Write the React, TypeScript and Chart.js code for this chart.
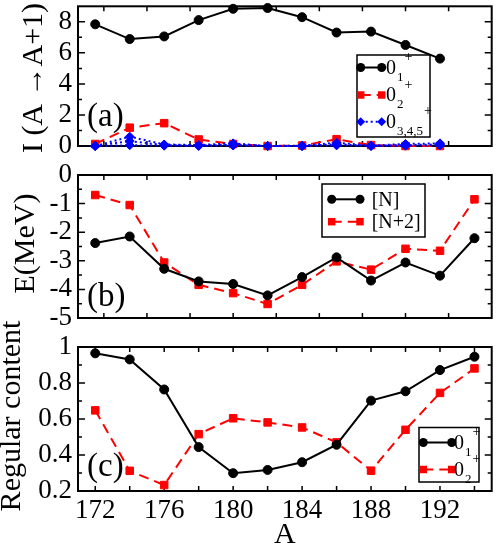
import React, { useEffect, useRef } from 'react';
import { Chart, registerables } from 'chart.js';

Chart.register(...registerables);

const FONT = "'Liberation Serif', 'Times New Roman', Times, serif";

// ---------- data ----------
const A_FULL = [172, 174, 176, 178, 180, 182, 184, 186, 188, 190, 192, 194];
const A_TRANSFER = [172, 174, 176, 178, 180, 182, 184, 186, 188, 190, 192];

// panel (a): I(A -> A+1)
const I_01 = [7.84, 6.89, 7.06, 8.11, 8.84, 8.89, 8.3, 7.31, 7.37, 6.51, 5.63];
const I_02 = [0.13, 1.18, 1.47, 0.42, 0.13, 0.0, 0.03, 0.44, 0.06, 0.0, 0.0];
const I_03 = [0.0, 0.6, 0.1, 0.06, 0.17, 0.0, 0.02, 0.21, 0.03, 0.13, 0.17];
const I_04 = [0.0, 0.32, 0.05, 0.03, 0.08, 0.0, 0.0, 0.12, 0.01, 0.06, 0.1];
const I_05 = [0.0, 0.05, 0.02, 0.0, 0.03, 0.0, 0.0, 0.04, 0.0, 0.02, 0.04];

// panel (b): E(MeV)
const E_N = [-2.38, -2.15, -3.28, -3.72, -3.81, -4.21, -3.57, -2.88, -3.69, -3.06, -3.52, -2.21];
const E_N2 = [-0.7, -1.05, -3.06, -3.84, -4.13, -4.51, -3.84, -3.02, -3.31, -2.58, -2.65, -0.85];

// panel (c): regular content
const RC_01 = [0.965, 0.931, 0.764, 0.444, 0.299, 0.317, 0.36, 0.457, 0.702, 0.754, 0.872, 0.946];
const RC_02 = [0.648, 0.312, 0.233, 0.516, 0.604, 0.581, 0.553, 0.47, 0.313, 0.54, 0.745, 0.881];

// ---------- ticks & labels ----------
const X_TICK_LABELS = [172, 176, 180, 184, 188, 192];
const X_MARKS_AB = [172.5, 175, 177.5, 180, 182.5, 185, 187.5, 190, 192.5];
const X_MARKS_C = [172, 174, 176, 178, 180, 182, 184, 186, 188, 190, 192, 194];
const Y_TICKS_A = [0, 2, 4, 6, 8];
const Y_MINOR_A = [1, 3, 5, 7];
const Y_TICKS_B = [0, -1, -2, -3, -4, -5];
const Y_MINOR_B = [-0.5, -1.5, -2.5, -3.5, -4.5];
const Y_TICKS_C = [0.2, 0.4, 0.6, 0.8, 1];
const Y_MINOR_C = [0.3, 0.5, 0.7, 0.9];

const Y_TITLES = ['I (A \u2192A+1)', 'E(MeV)', 'Regular content'];
const X_TITLE = 'A';
const PANEL_TAGS = ['(a)', '(b)', '(c)'];
const LEGEND_A = [
  { main: '0', sub: '1', sup: '+' },
  { main: '0', sub: '2', sup: '+' },
  { main: '0', sub: '3,4,5', sup: '+' },
];
const LEGEND_B = [{ main: '[N]' }, { main: '[N+2]' }];
const LEGEND_C = [
  { main: '0', sub: '1', sup: '+' },
  { main: '0', sub: '2', sup: '+' },
];

// ---------- styles ----------
const BLACK = {
  borderColor: '#000000', backgroundColor: '#000000',
  pointBackgroundColor: '#000000', pointBorderColor: '#000000',
  borderWidth: 2, borderDash: [] as number[], pointStyle: 'circle', pointRadius: 4.5, pointBorderWidth: 1,
};
const RED = {
  borderColor: '#ff0000', backgroundColor: '#ff0000',
  pointBackgroundColor: '#ff0000', pointBorderColor: '#ff0000',
  borderWidth: 2, borderDash: [10, 6], pointStyle: 'rect', pointRadius: 5.3, pointBorderWidth: 1,
};
const BLUE = {
  borderColor: '#0000ff', backgroundColor: '#0000ff',
  pointBackgroundColor: '#0000ff', pointBorderColor: '#0000ff',
  borderWidth: 2, borderDash: [2, 3], pointStyle: 'rectRot', pointRadius: 4.5, pointBorderWidth: 1,
};

function ds(label: string, xs: number[], ys: number[], style: any) {
  return {
    label,
    data: xs.map((x, i) => ({ x, y: ys[i] })),
    ...style,
    fill: false,
    tension: 0,
    clip: false,
  };
}

function drawMarker(ctx: CanvasRenderingContext2D, style: string, r: number, x: number, y: number, color: string) {
  ctx.save();
  ctx.fillStyle = color;
  ctx.beginPath();
  if (style === 'circle') {
    ctx.arc(x, y, r, 0, Math.PI * 2);
  } else if (style === 'rect') {
    const s = r * Math.SQRT1_2;
    ctx.rect(x - s, y - s, 2 * s, 2 * s);
  } else {
    ctx.moveTo(x - r, y);
    ctx.lineTo(x, y - r);
    ctx.lineTo(x + r, y);
    ctx.lineTo(x, y + r);
    ctx.closePath();
  }
  ctx.fill();
  ctx.restore();
}

function makeFramePlugin(xMarks: number[], yMajor: number[], yMinor: number[]) {
  return {
    id: 'frameMarks',
    beforeDatasetsDraw(chart: any) {
      const { ctx, chartArea } = chart;
      const { left, right, top, bottom } = chartArea;
      const xs = chart.scales.x;
      const ys = chart.scales.y;
      ctx.save();
      ctx.strokeStyle = '#000';
      ctx.lineWidth = 1.5;
      ctx.beginPath();
      for (const v of xMarks) {
        const p = xs.getPixelForValue(v);
        ctx.moveTo(p, bottom); ctx.lineTo(p, bottom - 5);
        ctx.moveTo(p, top); ctx.lineTo(p, top + 5);
      }
      for (const v of yMajor) {
        const p = ys.getPixelForValue(v);
        ctx.moveTo(left, p); ctx.lineTo(left + 7, p);
        ctx.moveTo(right, p); ctx.lineTo(right - 7, p);
      }
      for (const v of yMinor) {
        const p = ys.getPixelForValue(v);
        ctx.moveTo(left, p); ctx.lineTo(left + 4, p);
        ctx.moveTo(right, p); ctx.lineTo(right - 4, p);
      }
      ctx.stroke();
      ctx.lineWidth = 2;
      ctx.strokeRect(left, top, right - left, bottom - top);
      ctx.restore();
    },
  };
}

type LegendCfg = {
  box: [number, number, number, number];
  x1: number; x2: number; tx: number;
  rows: number[];
  datasets: number[];
  labels: { main: string; sub?: string; sup?: string }[];
  tag: string; tagX: number; tagY: number;
  title: string; titleX: number; titleY: number;
};

function makeLegendPlugin(cfg: LegendCfg) {
  return {
    id: 'boxLegend',
    afterDatasetsDraw(chart: any) {
      const ctx: CanvasRenderingContext2D = chart.ctx;
      ctx.save();
      // y-axis title (drawn here so it is not squeezed to the axis height)
      ctx.save();
      ctx.translate(cfg.titleX, cfg.titleY);
      ctx.rotate(-Math.PI / 2);
      ctx.fillStyle = '#000';
      ctx.textAlign = 'center';
      ctx.textBaseline = 'middle';
      ctx.font = `30px ${FONT}`;
      ctx.fillText(cfg.title, 0, 0);
      ctx.restore();
      // panel tag
      ctx.fillStyle = '#000';
      ctx.textAlign = 'left';
      ctx.textBaseline = 'alphabetic';
      ctx.font = `33px ${FONT}`;
      ctx.fillText(cfg.tag, cfg.tagX, cfg.tagY);
      // box
      const [bx, by, bw, bh] = cfg.box;
      ctx.fillStyle = '#fff';
      ctx.fillRect(bx, by, bw, bh);
      ctx.strokeStyle = '#000';
      ctx.lineWidth = 1.5;
      ctx.strokeRect(bx, by, bw, bh);
      cfg.labels.forEach((lab, i) => {
        const d = chart.data.datasets[cfg.datasets[i]];
        const y = cfg.rows[i];
        ctx.save();
        ctx.strokeStyle = d.borderColor;
        ctx.lineWidth = d.borderWidth;
        ctx.setLineDash(d.borderDash || []);
        ctx.beginPath();
        ctx.moveTo(cfg.x1, y);
        ctx.lineTo(cfg.x2, y);
        ctx.stroke();
        ctx.restore();
        drawMarker(ctx, d.pointStyle, d.pointRadius, cfg.x1, y, d.pointBackgroundColor);
        drawMarker(ctx, d.pointStyle, d.pointRadius, cfg.x2, y, d.pointBackgroundColor);
        ctx.fillStyle = '#000';
        ctx.textBaseline = 'middle';
        ctx.font = `20px ${FONT}`;
        ctx.fillText(lab.main, cfg.tx, y + 1);
        let x = cfg.tx + ctx.measureText(lab.main).width;
        if (lab.sub) {
          ctx.font = `13px ${FONT}`;
          ctx.fillText(lab.sub, x + 1, y + 10);
          x = x + 1 + ctx.measureText(lab.sub).width;
        }
        if (lab.sup) {
          ctx.font = `14px ${FONT}`;
          ctx.fillText(lab.sup, x + 1, y - 10);
        }
      });
      ctx.restore();
    },
  };
}

function makeConfig(p: {
  datasets: any[]; yMin: number; yMax: number; yTicks: number[];
  padTop: number; padBottom: number; showX: boolean;
  plugins: any[];
}) {
  return {
    type: 'line',
    data: { datasets: p.datasets },
    plugins: p.plugins,
    options: {
      responsive: false,
      animation: false,
      events: [],
      layout: { padding: { left: 0, right: 2, top: p.padTop, bottom: p.padBottom } },
      plugins: { legend: { display: false }, tooltip: { enabled: false } },
      scales: {
        x: {
          type: 'linear',
          min: 171,
          max: 195,
          display: p.showX,
          grid: { display: false, drawTicks: false },
          border: { display: false },
          afterBuildTicks: (s: any) => { s.ticks = X_TICK_LABELS.map((v) => ({ value: v })); },
          afterFit: (s: any) => {
            s.height = p.showX ? 56 : 0;
            s.paddingLeft = 0; s.paddingRight = 0;
          },
          ticks: {
            autoSkip: false, maxRotation: 0, minRotation: 0, padding: 6, color: '#000',
            font: { family: FONT, size: 27, lineHeight: 1 },
            callback: (v: any) => String(v),
          },
          title: {
            display: true, text: X_TITLE, color: '#000', padding: 0,
            font: { family: FONT, size: 30, lineHeight: 0.8 },
          },
        },
        y: {
          type: 'linear',
          min: p.yMin,
          max: p.yMax,
          grid: { display: false, drawTicks: false },
          border: { display: false },
          afterBuildTicks: (s: any) => { s.ticks = p.yTicks.map((v) => ({ value: v })); },
          afterFit: (s: any) => {
            s.width = 78;
            s.paddingTop = 0; s.paddingBottom = 0;
          },
          ticks: {
            autoSkip: false, padding: 6, color: '#000',
            font: { family: FONT, size: 27, lineHeight: 1 },
            callback: (v: any) => String(v),
          },
          title: { display: false },
        },
      },
    },
  } as any;
}

export default function App() {
  const refA = useRef<HTMLCanvasElement>(null);
  const refB = useRef<HTMLCanvasElement>(null);
  const refC = useRef<HTMLCanvasElement>(null);

  useEffect(() => {
    const cfgA = makeConfig({
      datasets: [
        ds('0_1+', A_TRANSFER, I_01, BLACK),
        ds('0_3+', A_TRANSFER, I_03, BLUE),
        ds('0_4+', A_TRANSFER, I_04, BLUE),
        ds('0_5+', A_TRANSFER, I_05, BLUE),
        ds('0_2+', A_TRANSFER, I_02, RED),
      ],
      yMin: 0, yMax: 9, yTicks: Y_TICKS_A,
      padTop: 3, padBottom: 547 - 146, showX: false,
      plugins: [
        makeFramePlugin(X_MARKS_AB, Y_TICKS_A, Y_MINOR_A),
        makeLegendPlugin({
          box: [357, 55, 73, 82], x1: 360.7, x2: 381.7, tx: 386,
          rows: [67.5, 95, 121.7], datasets: [0, 4, 1], labels: LEGEND_A,
          tag: PANEL_TAGS[0], tagX: 87, tagY: 126,
          title: Y_TITLES[0], titleX: 34, titleY: 78,
        }),
      ],
    });
    const cfgB = makeConfig({
      datasets: [
        ds('[N]', A_FULL, E_N, BLACK),
        ds('[N+2]', A_FULL, E_N2, RED),
      ],
      yMin: -5, yMax: 0, yTicks: Y_TICKS_B,
      padTop: 175, padBottom: 547 - 318, showX: false,
      plugins: [
        makeFramePlugin(X_MARKS_AB, Y_TICKS_B, Y_MINOR_B),
        makeLegendPlugin({
          box: [322, 184, 103, 53], x1: 331.7, x2: 360, tx: 371.7,
          rows: [199.3, 221.7], datasets: [0, 1], labels: LEGEND_B,
          tag: PANEL_TAGS[1], tagX: 87, tagY: 306,
          title: Y_TITLES[1], titleX: 26, titleY: 243.5,
        }),
      ],
    });
    const cfgC = makeConfig({
      datasets: [
        ds('0_1+', A_FULL, RC_01, BLACK),
        ds('0_2+', A_FULL, RC_02, RED),
      ],
      yMin: 0.2, yMax: 1, yTicks: Y_TICKS_C,
      padTop: 347, padBottom: 0, showX: true,
      plugins: [
        makeFramePlugin(X_MARKS_C, Y_TICKS_C, Y_MINOR_C),
        makeLegendPlugin({
          box: [419, 427.5, 60, 54.5], x1: 423.3, x2: 451.7, tx: 454,
          rows: [442.5, 469.5], datasets: [0, 1], labels: LEGEND_C,
          tag: PANEL_TAGS[2], tagX: 87, tagY: 476,
          title: Y_TITLES[2], titleX: 12, titleY: 416,
        }),
      ],
    });
    const charts = [
      new Chart(refA.current as HTMLCanvasElement, cfgA),
      new Chart(refB.current as HTMLCanvasElement, cfgB),
      new Chart(refC.current as HTMLCanvasElement, cfgC),
    ];
    return () => charts.forEach((c) => c.destroy());
  }, []);

  const cs: React.CSSProperties = { position: 'absolute', left: 0, top: 0, width: 498, height: 547 };
  return (
    <div style={{ position: 'absolute', left: 0, top: 0, width: 498, height: 547, background: '#fff' }}>
      <canvas ref={refA} width={498} height={547} style={cs} />
      <canvas ref={refB} width={498} height={547} style={cs} />
      <canvas ref={refC} width={498} height={547} style={cs} />
    </div>
  );
}
